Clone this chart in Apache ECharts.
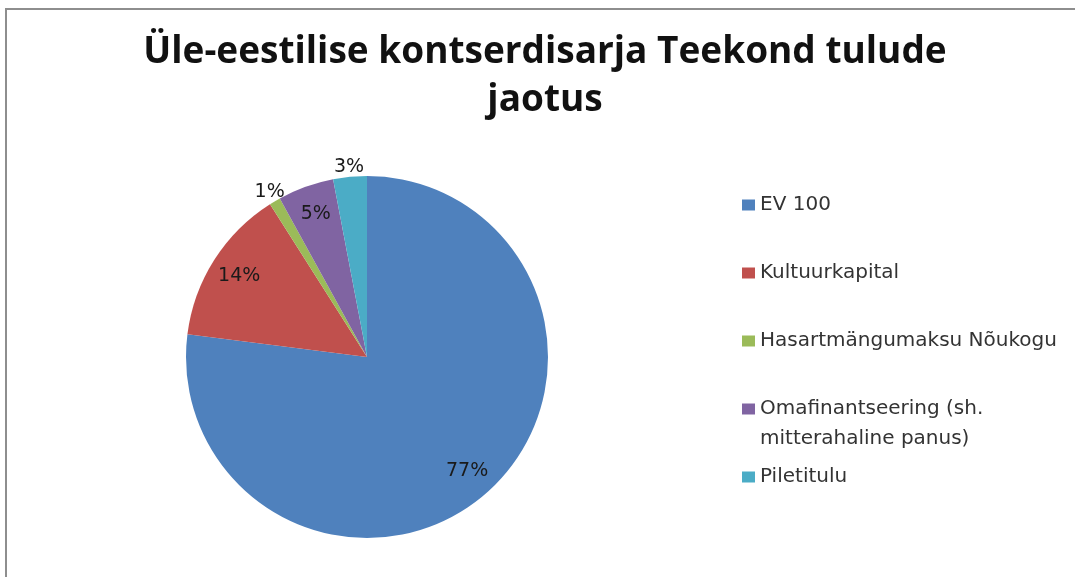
<!DOCTYPE html>
<html>
<head>
<meta charset="UTF-8">
<title>Teekond tulude jaotus</title>
<script src="https://cdn.jsdelivr.net/npm/echarts@6/dist/echarts.min.js"></script>
<style>
  html, body { margin: 0; padding: 0; overflow: hidden; background: #fff; }
  #main { position: absolute; left: 0; top: 0; width: 1075px; height: 577px; }
  /* chart frame: only the top and left edges are visible in the picture */
  #frame { position: absolute; left: 5px; top: 8px; width: 1100px; height: 600px;
           border-left: 2px solid #8e8e8e; border-top: 2px solid #8e8e8e; pointer-events: none; }
</style>
</head>
<body>
<div id="main"></div>
<div id="frame"></div>
<script type="text/javascript">
var titleText = 'Üle-eestilise kontserdisarja Teekond tulude\njaotus';
var names = ['EV 100', 'Kultuurkapital', 'Hasartmängumaksu Nõukogu',
             'Omafinantseering (sh. mitterahaline panus)', 'Piletitulu'];
var shares = [77, 14, 1, 5, 3];
var colors = ['#4F81BD', '#C0504D', '#9BBB59', '#8064A2', '#4BACC6'];
// which data labels sit outside the pie
var labelOutside = [false, false, true, false, true];

var cx = 367, cy = 357, R = 181;
var fontFamily = '"DejaVu Sans", sans-serif';

var myChart = echarts.init(document.getElementById('main'));

function sliceData(hidden, showFn) {
  return names.map(function (n, i) {
    return {
      name: n,
      value: shares[i],
      itemStyle: { color: hidden ? 'rgba(0,0,0,0)' : colors[i] },
      label: { show: showFn(i) }
    };
  });
}

// one legend per entry, so the icons keep Excel's even spacing
var lh = 30;
var legends = names.map(function (n, i) {
  var twoLines = n.indexOf('(sh.') >= 0;
  var block = twoLines ? 3 * lh : lh;
  return {
    orient: 'vertical',
    left: 742,
    top: 205 + i * 68 - block / 2,
    padding: 0,
    icon: 'rect',
    itemWidth: 13,
    itemHeight: 11,
    selectedMode: false,
    data: [n],
    formatter: function (name) {
      return twoLines ? '\nOmafinantseering (sh.\nmitterahaline panus)' : name;
    },
    textStyle: { fontFamily: fontFamily, fontSize: 20, color: '#333', lineHeight: lh }
  };
});

var labelStyle = {
  position: 'inside',
  formatter: '{c}%',
  color: '#1a1a1a',
  fontFamily: fontFamily,
  fontSize: 19
};

myChart.setOption({
  backgroundColor: '#fff',
  animation: false,
  title: {
    text: titleText,
    left: 545,
    textAlign: 'center',
    top: 28,
    padding: 0,
    textStyle: { fontFamily: '"Open Sans", sans-serif', fontWeight: 'bold', fontSize: 37,
                 color: '#111', lineHeight: 48 }
  },
  legend: legends,
  series: [{
    name: 'tulud',
    type: 'pie',
    center: [cx, cy],
    radius: R,
    startAngle: 90,
    clockwise: true,
    avoidLabelOverlap: false,
    label: { show: false },
    labelLine: { show: false },
    emphasis: { scale: false },
    data: sliceData(false, function () { return false; })
  }, {
    // transparent copy, only carries the labels placed inside the slices
    name: 'sildid1',
    type: 'pie',
    silent: true,
    center: [cx, cy],
    radius: R * 1.64,
    startAngle: 90,
    avoidLabelOverlap: false,
    label: labelStyle,
    labelLine: { show: false },
    data: sliceData(true, function (i) { return !labelOutside[i]; })
  }, {
    // transparent copy, only carries the labels just outside the rim
    name: 'sildid2',
    type: 'pie',
    silent: true,
    center: [cx, cy],
    radius: R * 2.08,
    startAngle: 90,
    avoidLabelOverlap: false,
    label: labelStyle,
    labelLine: { show: false },
    data: sliceData(true, function (i) { return labelOutside[i]; })
  }]
});
</script>
</body>
</html>
